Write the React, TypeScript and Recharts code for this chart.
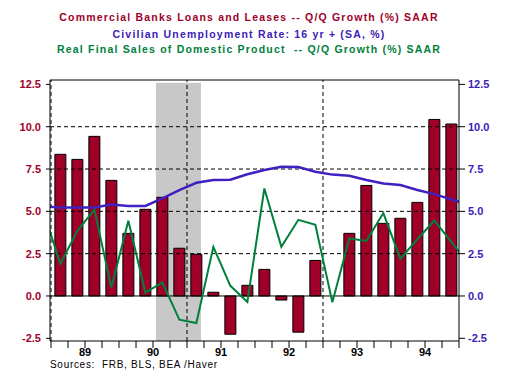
import {
  ComposedChart,
  Bar,
  Line,
  XAxis,
  YAxis,
  ReferenceLine,
  ReferenceArea,
} from "recharts";

// quarters from 88Q4 to 95Q1; the two end quarters only feed the clipped line ends
const quarters = [
  "88Q4",
  "89Q1", "89Q2", "89Q3", "89Q4",
  "90Q1", "90Q2", "90Q3", "90Q4",
  "91Q1", "91Q2", "91Q3", "91Q4",
  "92Q1", "92Q2", "92Q3", "92Q4",
  "93Q1", "93Q2", "93Q3", "93Q4",
  "94Q1", "94Q2", "94Q3", "94Q4",
  "95Q1",
];
const loans = [
  null,
  8.37, 8.07, 9.43, 6.83,
  3.7, 5.12, 5.83, 2.82,
  2.46, 0.22, -2.26, 0.63,
  1.57, -0.24, -2.14, 2.1,
  null, 3.7, 6.53, 4.29,
  4.59, 5.53, 10.43, 10.16,
  null,
];
const unemployment = [
  5.3,
  5.22, 5.22, 5.23, 5.4,
  5.32, 5.32, 5.77, 6.26,
  6.69, 6.85, 6.87, 7.19,
  7.44, 7.64, 7.62, 7.34,
  7.17, 7.1, 6.85, 6.65,
  6.56, 6.26, 6.02, 5.71,
  5.4,
];
const finalSales = [
  5.0,
  1.9, 3.85, 5.1, 0.5,
  4.45, 0.2, 0.8, -1.4,
  -1.6, 2.9, 0.6, -0.35,
  6.35, 2.9, 4.5, 4.2,
  -0.37, 3.4, 3.25, 4.9,
  2.2, 3.35, 4.45, 3.2,
  1.9,
];
const yearLabels = ["89", "90", "91", "92", "93", "94"];
const quarterTicks = [0, 1, 2, 3, 4, 5, 6, 7, 8, 9, 10, 11, 12, 13, 14, 15, 16, 17, 18, 19, 20, 21, 22, 23, 24];
const valueTicks = [-2.5, 0, 2.5, 5, 7.5, 10, 12.5];
const gridValues = [2.5, 5, 7.5, 10];
const yearRules = [0, 8, 16]; // Jan 89, Jan 91, Jan 93
const recession = [6.17, 8.82]; // Aug 90 - Mar 91, in quarters since Jan 89

const Y_MIN = -2.66;
const Y_MAX = 12.76;

const data = quarters.map((q, k) => ({
  q,
  t: k - 1 + 0.55,
  loans: loans[k],
  unemp: unemployment[k],
  sales: finalSales[k],
}));

const FONT = "'Liberation Sans', Arial, sans-serif";
const RED = "#A00028";
const BLUE = "#3C20B8";
const GREEN = "#00803C";

const xFmt = (v: number) => (v % 4 === 2 ? yearLabels[(v - 2) / 4] : "");
const yFmt = (v: number) => v.toFixed(1);

const titleStyle = {
  position: "absolute" as const,
  left: 0,
  width: 498,
  textAlign: "center" as const,
  fontFamily: FONT,
  fontWeight: "bold" as const,
  fontSize: 10.5,
  letterSpacing: 1.2,
  lineHeight: "12px",
};

export default function App() {
  return (
    <div style={{ position: "absolute", left: 0, top: 0, width: 532, height: 373, background: "#fff", fontFamily: FONT }}>
      <div style={{ ...titleStyle, top: 11, color: RED }}>
        Commercial Banks Loans and Leases -- Q/Q Growth (%) SAAR
      </div>
      <div style={{ ...titleStyle, top: 28, color: BLUE }}>
        Civilian Unemployment Rate: 16 yr + (SA, %)
      </div>
      <div style={{ ...titleStyle, top: 43, color: GREEN }}>
        Real Final Sales of Domestic Product&nbsp; -- Q/Q Growth (%) SAAR
      </div>

      <ComposedChart width={532} height={373} data={data} margin={{ top: 80, right: 0, bottom: 12, left: 0 }}>
        <XAxis
          type="number"
          dataKey="t"
          domain={[-0.06, 24]}
          allowDataOverflow
          ticks={quarterTicks}
          interval={0}
          tickFormatter={xFmt}
          height={20}
          tickSize={7}
          tickMargin={0}
          stroke="#000"
          tick={{ fill: "#000", fontSize: 11, fontWeight: "bold", fontFamily: FONT }}
        />
        <YAxis
          yAxisId="left"
          domain={[Y_MIN, Y_MAX]}
          allowDataOverflow
          ticks={valueTicks}
          interval={0}
          tickFormatter={yFmt}
          width={50}
          tickSize={4}
          tickMargin={5}
          stroke="#000"
          tick={{ fill: RED, fontSize: 11, fontWeight: "bold", fontFamily: FONT }}
        />
        <YAxis
          yAxisId="right"
          orientation="right"
          domain={[Y_MIN, Y_MAX]}
          allowDataOverflow
          ticks={valueTicks}
          interval={0}
          tickFormatter={yFmt}
          width={73}
          tickSize={6}
          tickMargin={3}
          stroke="#000"
          tick={{ fill: BLUE, fontSize: 11, fontWeight: "bold", fontFamily: FONT }}
        />

        {gridValues.map((v) => (
          <ReferenceLine key={"g" + v} yAxisId="left" y={v} stroke="#000" strokeDasharray="4 3" />
        ))}
        <ReferenceArea
          yAxisId="left"
          x1={recession[0]}
          x2={recession[1]}
          y1={Y_MIN}
          y2={12.6}
          fill="#C8C8C8"
          fillOpacity={1}
          stroke="none"
        />
        {yearRules.map((v) => (
          <ReferenceLine key={"v" + v} yAxisId="left" x={v} stroke="#000" strokeDasharray="4 3" />
        ))}
        <ReferenceLine yAxisId="left" y={0} stroke="#000" />
        <ReferenceLine yAxisId="left" y={Y_MAX} stroke="#000" />

        <Bar yAxisId="left" dataKey="loans" barSize={11} fill={RED} stroke="#000" strokeWidth={1} isAnimationActive={false} />
        <Line yAxisId="left" type="linear" dataKey="unemp" stroke="#4020C0" strokeWidth={2.5} dot={false} isAnimationActive={false} />
        <Line yAxisId="left" type="linear" dataKey="sales" stroke={GREEN} strokeWidth={2} dot={false} isAnimationActive={false} />
      </ComposedChart>

      <div
        style={{
          position: "absolute",
          left: 50,
          top: 359,
          fontSize: 10,
          letterSpacing: 0.7,
          color: "#000",
          fontFamily: FONT,
          whiteSpace: "pre",
        }}
      >
        {"Sources:  FRB, BLS, BEA /Haver"}
      </div>
    </div>
  );
}
